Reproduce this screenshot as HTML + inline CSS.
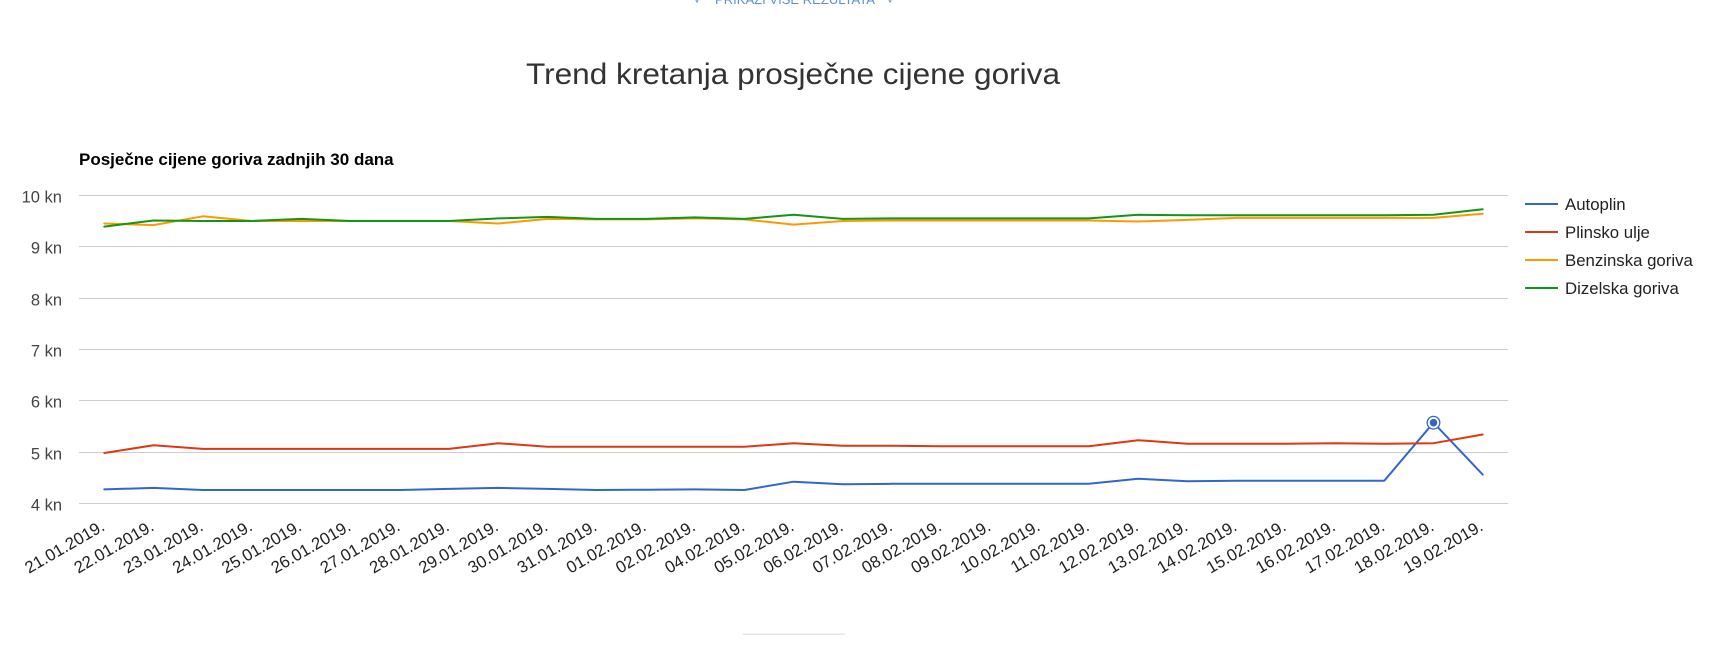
<!DOCTYPE html>
<html>
<head>
<meta charset="utf-8">
<style>
  html,body{margin:0;padding:0;background:#fff;}
  body{width:1717px;height:646px;overflow:hidden;}
  svg{display:block;}
  text{font-family:"Liberation Sans", Arial, sans-serif;}
</style>
</head>
<body>
<svg width="1717" height="646" viewBox="0 0 1717 646" xmlns="http://www.w3.org/2000/svg">
  <rect x="0" y="0" width="1717" height="646" fill="#ffffff"/>

  <!-- top link (clipped) -->
  <text x="697" y="4" font-size="12" fill="#5a8fd0" text-anchor="middle">˅</text>
  <text x="715" y="4" font-size="13" fill="#5a8fd0" textLength="160" lengthAdjust="spacingAndGlyphs">PRIKAŽI VIŠE REZULTATA</text>
  <text x="890" y="4" font-size="12" fill="#5a8fd0" text-anchor="middle">˅</text>

  <!-- page title -->
  <text x="526" y="84" font-size="30" fill="#333333" textLength="534" lengthAdjust="spacingAndGlyphs">Trend kretanja prosječne cijene goriva</text>

  <!-- chart title -->
  <text x="79" y="165" font-size="17" font-weight="bold" fill="#000000">Posječne cijene goriva zadnjih 30 dana</text>

  <!-- gridlines -->
  <g stroke="#cccccc" stroke-width="1">
    <line x1="79" y1="195.5" x2="1508" y2="195.5"/>
    <line x1="79" y1="246.5" x2="1508" y2="246.5"/>
    <line x1="79" y1="298.5" x2="1508" y2="298.5"/>
    <line x1="79" y1="349.5" x2="1508" y2="349.5"/>
    <line x1="79" y1="400.5" x2="1508" y2="400.5"/>
    <line x1="79" y1="452.5" x2="1508" y2="452.5"/>
    <line x1="79" y1="503.5" x2="1508" y2="503.5"/>
  </g>

  <!-- y labels -->
  <g font-size="16.5" fill="#444444" text-anchor="end">
    <text x="62" y="202.3">10 kn</text>
    <text x="62" y="253.3">9 kn</text>
    <text x="62" y="305.3">8 kn</text>
    <text x="62" y="356.3">7 kn</text>
    <text x="62" y="407.3">6 kn</text>
    <text x="62" y="459.3">5 kn</text>
    <text x="62" y="510.3">4 kn</text>
  </g>

  <!-- series -->
  <g fill="none" stroke-width="2" stroke-linejoin="round" stroke-linecap="round">
    <polyline stroke="#3366cc" points="104.3,489.4 153.5,487.9 202.8,490.0 252.0,490.0 301.2,490.0 350.5,490.0 399.7,490.0 448.9,488.9 498.1,487.9 547.4,488.9 596.6,490.0 645.8,489.7 695.1,489.4 744.3,490.0 793.5,481.7 842.8,484.3 892.0,483.8 941.2,483.8 990.4,483.8 1039.7,483.8 1088.9,483.8 1138.1,478.7 1187.4,481.2 1236.6,480.7 1285.8,480.7 1335.1,480.7 1384.3,480.7 1433.5,422.7 1482.7,474.6"/>
    <polyline stroke="#dc3912" points="104.3,453.0 153.5,445.3 202.8,448.9 252.0,448.9 301.2,448.9 350.5,448.9 399.7,448.9 448.9,448.9 498.1,443.2 547.4,446.8 596.6,446.8 645.8,446.8 695.1,446.8 744.3,446.8 793.5,443.2 842.8,445.8 892.0,445.8 941.2,446.3 990.4,446.3 1039.7,446.3 1088.9,446.3 1138.1,440.2 1187.4,443.8 1236.6,443.8 1285.8,443.8 1335.1,443.2 1384.3,443.8 1433.5,443.2 1482.7,434.5"/>
    <polyline stroke="#ff9900" points="104.3,223.5 153.5,225.1 202.8,216.3 252.0,221.0 301.2,221.0 350.5,221.0 399.7,221.0 448.9,221.0 498.1,223.5 547.4,218.9 596.6,219.4 645.8,219.4 695.1,218.4 744.3,219.4 793.5,224.6 842.8,221.0 892.0,220.5 941.2,220.5 990.4,220.5 1039.7,220.5 1088.9,220.5 1138.1,221.5 1187.4,219.9 1236.6,217.9 1285.8,217.9 1335.1,217.9 1384.3,217.9 1433.5,217.9 1482.7,213.8"/>
    <polyline stroke="#109618" points="104.3,226.6 153.5,220.5 202.8,221.0 252.0,221.0 301.2,218.9 350.5,221.0 399.7,221.0 448.9,221.0 498.1,218.4 547.4,216.9 596.6,218.9 645.8,218.9 695.1,217.4 744.3,218.9 793.5,214.8 842.8,218.9 892.0,218.4 941.2,218.4 990.4,218.4 1039.7,218.4 1088.9,218.4 1138.1,214.8 1187.4,215.3 1236.6,215.3 1285.8,215.3 1335.1,215.3 1384.3,215.3 1433.5,214.8 1482.7,209.2"/>
  </g>

  <!-- focused point -->
  <circle cx="1433.5" cy="422.7" r="6.3" fill="#ffffff" stroke="#3366cc" stroke-width="1.3"/>
  <circle cx="1433.5" cy="422.7" r="3.8" fill="#3366cc"/>

  <!-- legend -->
  <g stroke-width="2">
    <line x1="1525" y1="204" x2="1558" y2="204" stroke="#3366cc"/>
    <line x1="1525" y1="232" x2="1558" y2="232" stroke="#dc3912"/>
    <line x1="1525" y1="260" x2="1558" y2="260" stroke="#ff9900"/>
    <line x1="1525" y1="288" x2="1558" y2="288" stroke="#109618"/>
  </g>
  <g font-size="16.8" fill="#222222">
    <text x="1565" y="210">Autoplin</text>
    <text x="1565" y="238">Plinsko ulje</text>
    <text x="1565" y="266">Benzinska goriva</text>
    <text x="1565" y="294">Dizelska goriva</text>
  </g>

  <!-- x labels -->
  <g font-size="16.8" fill="#222222" text-anchor="end">
    <text transform="translate(105.8,529.5) rotate(-30)">21.01.2019.</text>
    <text transform="translate(155.0,529.5) rotate(-30)">22.01.2019.</text>
    <text transform="translate(204.3,529.5) rotate(-30)">23.01.2019.</text>
    <text transform="translate(253.5,529.5) rotate(-30)">24.01.2019.</text>
    <text transform="translate(302.7,529.5) rotate(-30)">25.01.2019.</text>
    <text transform="translate(352.0,529.5) rotate(-30)">26.01.2019.</text>
    <text transform="translate(401.2,529.5) rotate(-30)">27.01.2019.</text>
    <text transform="translate(450.4,529.5) rotate(-30)">28.01.2019.</text>
    <text transform="translate(499.6,529.5) rotate(-30)">29.01.2019.</text>
    <text transform="translate(548.9,529.5) rotate(-30)">30.01.2019.</text>
    <text transform="translate(598.1,529.5) rotate(-30)">31.01.2019.</text>
    <text transform="translate(647.3,529.5) rotate(-30)">01.02.2019.</text>
    <text transform="translate(696.6,529.5) rotate(-30)">02.02.2019.</text>
    <text transform="translate(745.8,529.5) rotate(-30)">04.02.2019.</text>
    <text transform="translate(795.0,529.5) rotate(-30)">05.02.2019.</text>
    <text transform="translate(844.3,529.5) rotate(-30)">06.02.2019.</text>
    <text transform="translate(893.5,529.5) rotate(-30)">07.02.2019.</text>
    <text transform="translate(942.7,529.5) rotate(-30)">08.02.2019.</text>
    <text transform="translate(991.9,529.5) rotate(-30)">09.02.2019.</text>
    <text transform="translate(1041.2,529.5) rotate(-30)">10.02.2019.</text>
    <text transform="translate(1090.4,529.5) rotate(-30)">11.02.2019.</text>
    <text transform="translate(1139.6,529.5) rotate(-30)">12.02.2019.</text>
    <text transform="translate(1188.9,529.5) rotate(-30)">13.02.2019.</text>
    <text transform="translate(1238.1,529.5) rotate(-30)">14.02.2019.</text>
    <text transform="translate(1287.3,529.5) rotate(-30)">15.02.2019.</text>
    <text transform="translate(1336.6,529.5) rotate(-30)">16.02.2019.</text>
    <text transform="translate(1385.8,529.5) rotate(-30)">17.02.2019.</text>
    <text transform="translate(1435.0,529.5) rotate(-30)">18.02.2019.</text>
    <text transform="translate(1484.2,529.5) rotate(-30)">19.02.2019.</text>
  </g>

  <!-- bottom faint divider -->
  <rect x="743" y="633.5" width="102" height="1.5" fill="#e6e6e6"/>
</svg>
</body>
</html>
